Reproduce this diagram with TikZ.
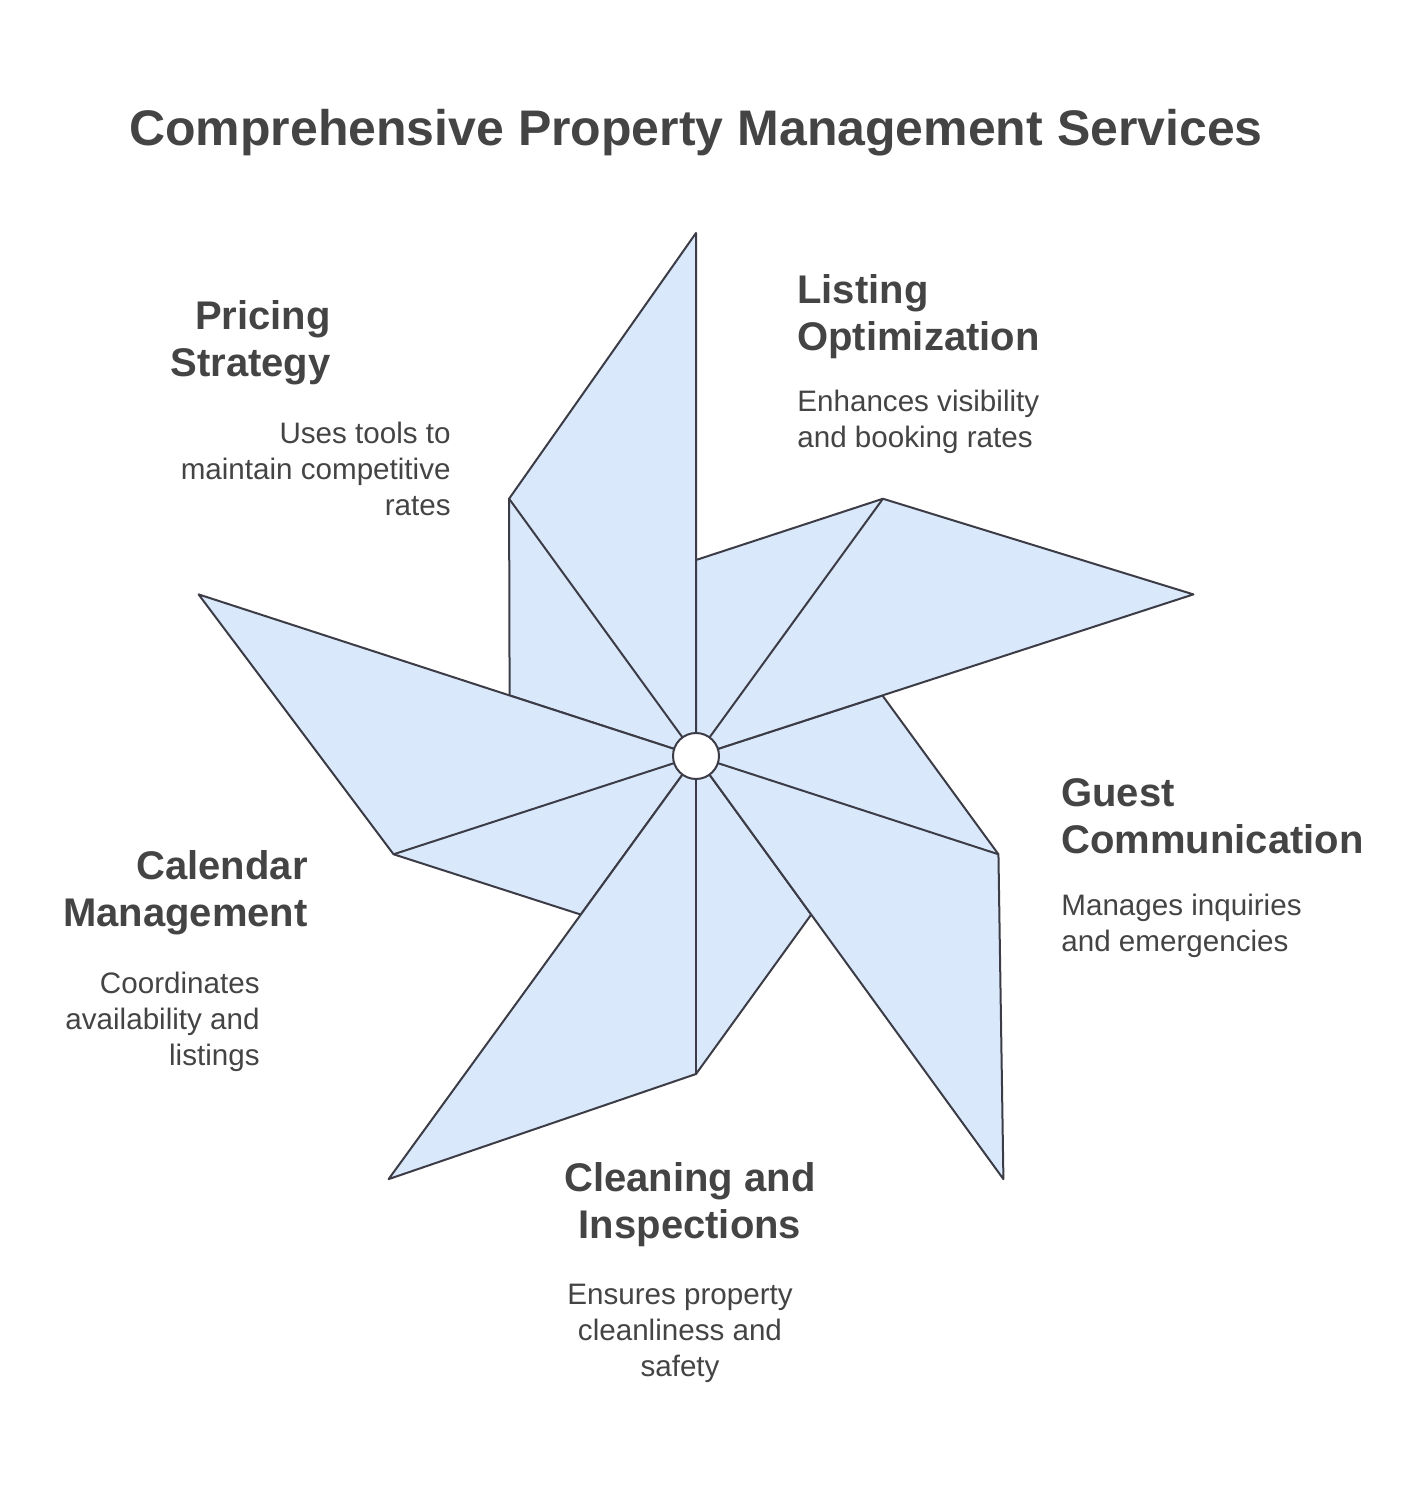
\documentclass[tikz,border=0pt]{standalone}
\usepackage{fontspec}
\setmainfont{Liberation Sans}
\usetikzlibrary{calc}
\definecolor{blade}{HTML}{DAE8FC}
\definecolor{edge}{HTML}{3C3C46}
\definecolor{txt}{HTML}{444444}
\begin{document}
\begin{tikzpicture}[x=0.5pt,y=-0.5pt,
  bladestyle/.style={fill=blade,draw=edge,line width=1pt,line join=round},
  head/.style={inner sep=0pt,text=txt,font=\bfseries\fontsize{20}{23.5}\selectfont},
  desc/.style={inner sep=0pt,text=txt,font=\fontsize{14.8}{18}\selectfont}]
\useasboundingbox (0,0) rectangle (1416,1488);
\coordinate (C) at (696,756);
\foreach \a in {-90,-162,126,54,-18}{
  \draw[bladestyle] (C) -- ($(C)+(\a:523)$) -- ($(C)+(\a-36:318)$)
     -- ($(C)+(\a-72:196)$) -- cycle;
  \draw[edge,line width=1pt] (C) -- ($(C)+(\a-36:318)$);
}
\node[circle,draw=edge,fill=white,line width=1pt,minimum size=23pt,inner sep=0pt] (hub) at (C) {};
\node[inner sep=0pt,text=txt,font=\bfseries\fontsize{25}{28}\selectfont] (title) at (696,133) {Comprehensive Property Management Services};
\node[head,align=right,anchor=north east] (h1) at (331,300) {Pricing\\Strategy};
\node[desc,align=right,anchor=north east] (d1) at (451,422) {Uses tools to\\maintain competitive\\rates};
\node[head,align=left,anchor=north west] (h2) at (797,274) {Listing\\Optimization};
\node[desc,align=left,anchor=north west] (d2) at (797,390) {Enhances visibility\\and booking rates};
\node[head,align=left,anchor=north west] (h3) at (1061,778) {Guest\\Communication};
\node[desc,align=left,anchor=north west] (d3) at (1061,894) {Manages inquiries\\and emergencies};
\node[head,align=center,anchor=north] (h4) at (690,1162) {Cleaning and\\Inspections};
\node[desc,align=center,anchor=north] (d4) at (680,1284) {Ensures property\\cleanliness and\\safety};
\node[head,align=right,anchor=north east] (h5) at (308,850) {Calendar\\Management};
\node[desc,align=right,anchor=north east] (d5) at (260,972) {Coordinates\\availability and\\listings};
\end{tikzpicture}
\end{document}
